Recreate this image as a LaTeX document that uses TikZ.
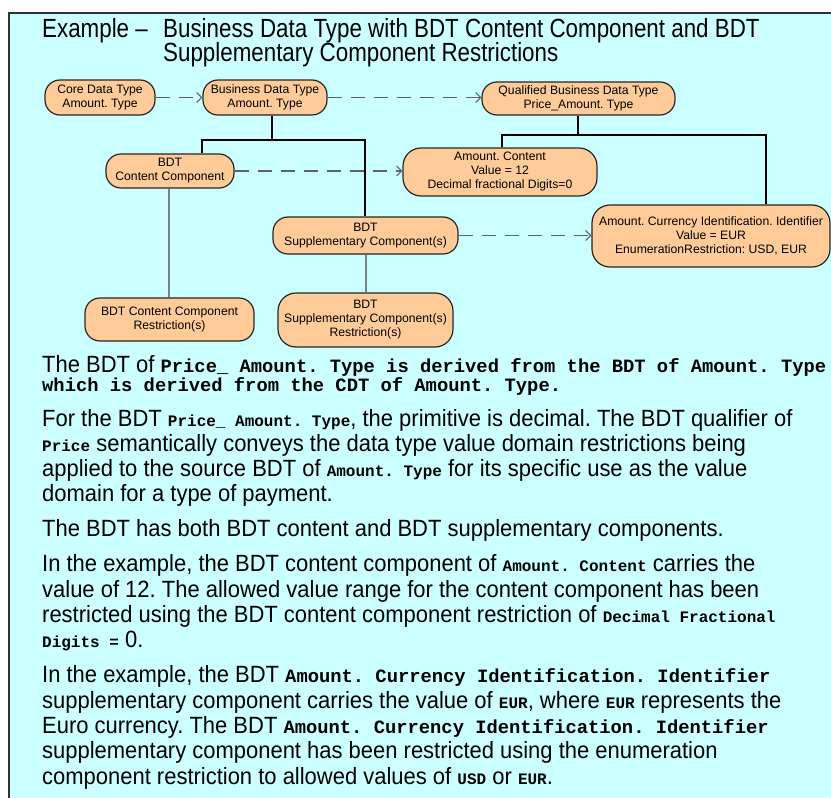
\documentclass[tikz,border=0pt]{standalone}
\usepackage{fontspec}
\setmainfont{Liberation Sans}
\setmonofont{Liberation Mono}
\newfontfamily\narrowsans[FakeStretch=0.935]{Liberation Sans}
\newfontfamily\titlesans[FakeStretch=0.85]{Liberation Sans}
\usetikzlibrary{arrows.meta}
\frenchspacing

\definecolor{panelcyan}{RGB}{204,255,255}
\definecolor{peach}{RGB}{255,204,153}
\definecolor{framegray}{RGB}{50,50,50}
\definecolor{dashgray}{RGB}{90,100,100}
\definecolor{stemgray}{RGB}{120,130,130}

% body text helpers
\newcommand\bodyfont{\narrowsans\fontsize{23.5bp}{25bp}\selectfont}
\newcommand\titlefont{\titlesans\fontsize{26.3bp}{30bp}\selectfont}
\newcommand\codebig[1]{{\ttfamily\bfseries\fontsize{18.8bp}{25bp}\selectfont #1}}
\newcommand\codesmall[1]{{\ttfamily\bfseries\fontsize{16bp}{25bp}\selectfont #1}}

\begin{document}
\begin{tikzpicture}[x=1bp,y=-1bp,
  entity/.style={draw=black!85, line width=1.2bp, fill=peach, rounded corners=15bp,
    align=center, inner sep=0pt, font=\fontsize{12.2bp}{14bp}\selectfont},
  tree/.style={draw=black, line width=1.3bp},
  stem/.style={draw=stemgray, line width=1.6bp},
  derive/.style={draw=dashgray, line width=1.3bp, dash pattern=on 14bp off 9bp,
    -{Straight Barb[length=5bp,width=10bp,line width=1bp]}},
  textline/.style={anchor=base west, inner sep=0pt, font=\bodyfont},
]
\useasboundingbox (0,0) rectangle (831,798);

% panel
\fill[panelcyan] (9,13) rectangle (831,798);
\draw[framegray, line width=2bp] (9,798) -- (9,13) -- (831,13);

% title
\node[anchor=base west, inner sep=0pt, font=\titlefont] (t1) at (42,38) {Example –};
\node[anchor=base west, inner sep=0pt, font=\titlefont] (t2) at (163,38) {Business Data Type with BDT Content Component and BDT};
\node[anchor=base west, inner sep=0pt, font=\titlefont] (t3) at (163,62) {Supplementary Component Restrictions};

% entities
\node[entity, minimum width=110bp, minimum height=35bp] (core) at (100,97.5) {Core Data Type\\Amount. Type};
\node[entity, minimum width=124bp, minimum height=35bp] (bdt) at (265,97.5) {Business Data Type\\Amount. Type};
\node[entity, minimum width=193bp, minimum height=33bp] (qbdt) at (578.5,98.5) {Qualified Business Data Type\\Price\_Amount. Type};
\node[entity, minimum width=128bp, minimum height=34bp] (content) at (170,171) {BDT\\Content Component};
\node[entity, minimum width=194bp, minimum height=48bp, rounded corners=18bp] (amtc) at (500,172) {Amount. Content\\Value = 12\\Decimal fractional Digits=0};
\node[entity, minimum width=185bp, minimum height=37bp] (sup) at (365.5,235.5) {BDT\\Supplementary Component(s)};
\node[entity, minimum width=238bp, minimum height=62bp, rounded corners=18bp] (cur) at (711,236) {Amount. Currency Identification. Identifier\\Value = EUR\\EnumerationRestriction: USD, EUR};
\node[entity, minimum width=169bp, minimum height=43bp] (cres) at (169.5,319.5) {BDT Content Component\\Restriction(s)};
\node[entity, minimum width=175bp, minimum height=54bp, rounded corners=18bp] (sres) at (365.5,320) {BDT\\Supplementary Component(s)\\Restriction(s)};

% junction points of the composition trees
\coordinate (bj) at (272,140);
\coordinate (cj) at (202,140);
\coordinate (sj) at (365,140);
\coordinate (qj) at (578,135);
\coordinate (aj) at (502,135);
\coordinate (rj) at (766,135);
\coordinate (cs) at (169,0);
\coordinate (ss) at (366,0);

% composition trees
\draw[tree] (bdt.south -| bj) -- (bj);
\draw[tree] (content.north -| cj) -- (cj) -- (sj) -- (sup.north -| sj);
\draw[tree] (qbdt.south -| qj) -- (qj);
\draw[tree] (amtc.north -| aj) -- (aj) -- (rj) -- (cur.north -| rj);

% restriction stems
\draw[stem] (content.south -| cs) -- (cres.north -| cs);
\draw[stem] (sup.south -| ss) -- (sres.north -| ss);

% derivation arrows
\draw[derive] (core.east) -- (bdt.west);
\draw[derive] (bdt.east) -- (bdt.east -| qbdt.west);
\draw[derive] (content.east) -- (content.east -| amtc.west);
\draw[derive] (sup.east) -- (sup.east -| cur.west);

% explanatory text
\node[textline] (l1) at (42,372) {The BDT of \codebig{Price\_ Amount. Type is derived from the BDT of Amount. Type}};
\node[textline] (l2) at (42,391) {\codebig{which is derived from the CDT of Amount. Type.}};
\node[textline] (l3) at (42,426) {For the BDT \codesmall{Price\_ Amount. Type}, the primitive is decimal. The BDT qualifier of};
\node[textline] (l4) at (42,451.3) {\codesmall{Price} semantically conveys the data type value domain restrictions being};
\node[textline] (l5) at (42,476.6) {applied to the source BDT of \codesmall{Amount. Type} for its specific use as the value};
\node[textline] (l6) at (42,501.9) {domain for a type of payment.};
\node[textline] (l7) at (42,536.9) {The BDT has both BDT content and BDT supplementary components.};
\node[textline] (l8) at (42,571.9) {In the example, the BDT content component of \codesmall{Amount. Content} carries the};
\node[textline] (l9) at (42,597.2) {value of 12. The allowed value range for the content component has been};
\node[textline] (l10) at (42,622.5) {restricted using the BDT content component restriction of \codesmall{Decimal Fractional}};
\node[textline] (l11) at (42,647.8) {\codesmall{Digits =} 0.};
\node[textline] (l12) at (42,682.8) {In the example, the BDT \codebig{Amount. Currency Identification. Identifier}};
\node[textline] (l13) at (42,708.1) {supplementary component carries the value of \codesmall{EUR}, where \codesmall{EUR} represents the};
\node[textline] (l14) at (42,733.4) {Euro currency. The BDT \codebig{Amount. Currency Identification. Identifier}};
\node[textline] (l15) at (42,758.7) {supplementary component has been restricted using the enumeration};
\node[textline] (l16) at (42,784) {component restriction to allowed values of \codesmall{USD} or \codesmall{EUR}.};
\end{tikzpicture}
\end{document}
